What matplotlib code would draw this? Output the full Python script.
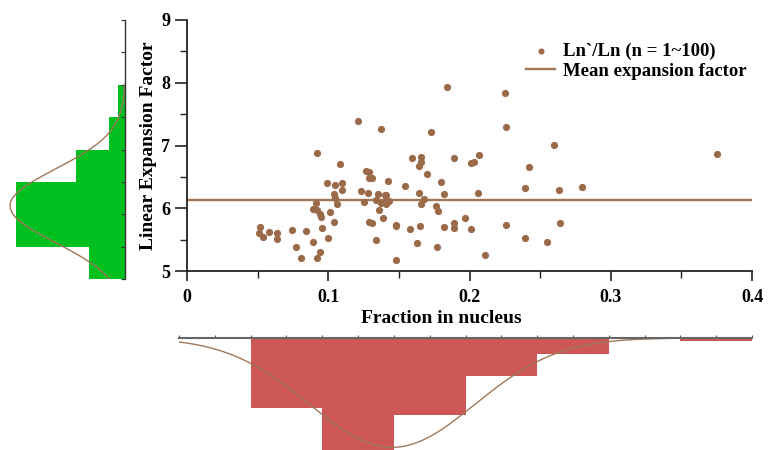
import numpy as np
import matplotlib
matplotlib.use("Agg")
import matplotlib.pyplot as plt
from matplotlib.ticker import MultipleLocator

# =========================
# data
# =========================
frac = [0.051, 0.052, 0.054, 0.058, 0.064, 0.064, 0.074, 0.077, 0.081, 0.084,
        0.089, 0.091, 0.089, 0.092, 0.094, 0.095, 0.092, 0.0955, 0.092, 0.094,
        0.0995, 0.101, 0.104, 0.099, 0.104, 0.105, 0.105, 0.106, 0.108, 0.110,
        0.110, 0.121, 0.123, 0.125, 0.127, 0.128, 0.129, 0.129, 0.131, 0.129,
        0.131, 0.134, 0.135, 0.134, 0.137, 0.136, 0.137, 0.139, 0.140, 0.141,
        0.141, 0.142, 0.143, 0.139, 0.148, 0.148, 0.148, 0.154, 0.158, 0.159,
        0.163, 0.164, 0.164, 0.166, 0.166, 0.165, 0.166, 0.168, 0.170, 0.173,
        0.177, 0.176, 0.178, 0.180, 0.182, 0.182, 0.184, 0.189, 0.189, 0.189,
        0.197, 0.201, 0.203, 0.201, 0.206, 0.207, 0.211, 0.225, 0.226, 0.226,
        0.2395, 0.239, 0.242, 0.255, 0.2596, 0.2636, 0.264, 0.2797, 0.375]
factor = [5.60, 5.70, 5.54, 5.62, 5.61, 5.51, 5.65, 5.39, 5.20, 5.63,
          5.47, 6.08, 5.99, 5.97, 5.91, 5.86, 6.88, 5.69, 5.21, 5.30,
          5.52, 5.94, 5.78, 6.41, 6.22, 6.17, 6.37, 6.07, 6.71, 6.29,
          6.41, 7.39, 6.28, 6.10, 6.59, 6.25, 6.57, 6.48, 6.49, 5.78,
          5.76, 5.49, 6.22, 6.13, 7.27, 5.97, 6.09, 5.85, 6.21, 6.07,
          6.21, 6.44, 6.11, 6.10, 5.74, 5.17, 5.72, 6.35, 5.67, 6.80,
          5.45, 6.25, 6.67, 6.74, 6.82, 5.71, 6.07, 6.14, 6.55, 7.22,
          5.38, 6.03, 5.95, 6.42, 5.70, 6.23, 7.94, 5.76, 5.68, 6.80,
          5.84, 6.72, 6.73, 5.67, 6.24, 6.85, 5.26, 7.83, 7.29, 5.73,
          5.53, 6.33, 6.66, 5.47, 7.01, 6.29, 5.77, 6.34, 6.87]

frac_bins = np.arange(0, 0.45, 0.05)
factor_bins = np.arange(5, 8.5, 0.5)

x = np.array(frac)
y = np.array(factor)
n = len(x)

dot_col = '#9B6A48'
line_col = '#A07858'
green = '#00C020'
red = '#CD5757'

plt.rcParams['font.family'] = ['Liberation Serif', 'DejaVu Serif']
plt.rcParams['font.weight'] = 'bold'

W, H = 770, 450
fig = plt.figure(figsize=(W / 100, H / 100), dpi=100)


def px_axes(l, t, r, b):
    return fig.add_axes([l / W, 1 - b / H, (r - l) / W, (b - t) / H])


# =========================
# main scatter
# =========================
ax = px_axes(187, 20, 752, 271)
ax.scatter(x, y, s=27, color=dot_col, linewidths=0, label='Ln`/Ln (n = 1~100)', zorder=3)
ax.axhline(y.mean(), color=line_col, lw=1.7, label='Mean expansion factor', zorder=2)
ax.set_xlim(0, 0.4)
ax.set_ylim(5, 9)
ax.xaxis.set_minor_locator(MultipleLocator(0.05))
ax.yaxis.set_major_locator(MultipleLocator(1))
ax.yaxis.set_minor_locator(MultipleLocator(0.5))
ax.set_xticks([0, 0.1, 0.2, 0.3, 0.4])
ax.set_xticklabels(['0', '0.1', '0.2', '0.3', '0.4'])
for s in ['top', 'right']:
    ax.spines[s].set_visible(False)
for s in ['left', 'bottom']:
    ax.spines[s].set_linewidth(1.3)
    ax.spines[s].set_color('#222222')
ax.tick_params(which='major', direction='out', width=1.2, labelsize=13, color='#222222')
ax.tick_params(axis='x', which='major', length=7, pad=6)
ax.tick_params(axis='y', which='major', length=9, pad=3)
ax.tick_params(which='minor', direction='out', length=5, width=1.0, color='#222222')
ax.set_xlabel('Fraction in nucleus', fontsize=14, fontweight='bold')
ax.xaxis.set_label_coords((441 - 187) / 565, -0.155)
ax.set_ylabel('Linear Expansion Factor', fontsize=14, fontweight='bold', labelpad=3)

leg = ax.legend(loc='upper right', bbox_to_anchor=(756 / W, 1 - 33 / H),
                bbox_transform=fig.transFigure, frameon=False, fontsize=13.5,
                handlelength=1.5, handletextpad=0.45, labelspacing=0.15,
                borderpad=0, markerscale=0.85)

# =========================
# left histogram (factor)
# =========================
axl = px_axes(0, 20, 125, 279)
axl.hist(y, bins=factor_bins, orientation='horizontal', color=green, edgecolor='none')
yy = np.linspace(5, 8, 200)
sd_y = y.std(ddof=1)
pdf_y = n * 0.5 * np.exp(-0.5 * ((yy - y.mean()) / sd_y) ** 2) / (sd_y * np.sqrt(2 * np.pi))
axl.plot(pdf_y, yy, color=line_col, lw=1)
axl.set_xlim(125 / 3.3, 0)
axl.set_ylim(5, 9)
axl.patch.set_alpha(0)
for s in ['top', 'left', 'bottom']:
    axl.spines[s].set_visible(False)
axl.spines['right'].set_linewidth(1.0)
axl.spines['right'].set_color('#333333')
axl.set_xticks([])
axl.yaxis.tick_right()
axl.yaxis.set_major_locator(MultipleLocator(0.5))
axl.tick_params(axis='y', direction='in', length=3, width=0.8, labelright=False, color='#333333')

# =========================
# bottom histogram (fraction)
# =========================
axb = px_axes(179, 338, 752, 450)
axb.hist(x, bins=frac_bins, color=red, edgecolor='none')
xx = np.linspace(0, 0.34, 200)
sd_x = x.std(ddof=1)
pdf_x = n * 0.05 * np.exp(-0.5 * ((xx - x.mean()) / sd_x) ** 2) / (sd_x * np.sqrt(2 * np.pi))
axb.plot(xx, pdf_x, color=line_col, lw=1)
axb.set_xlim(0, 0.4)
axb.set_ylim(112 / 3.2, 0)
axb.patch.set_alpha(0)
for s in ['left', 'right', 'bottom']:
    axb.spines[s].set_visible(False)
axb.spines['top'].set_linewidth(1.5)
axb.spines['top'].set_color('#666666')
axb.set_yticks([])
axb.xaxis.tick_top()
axb.xaxis.set_major_locator(MultipleLocator(0.025))
axb.tick_params(axis='x', direction='out', length=2.5, width=0.8, labeltop=False, color='#555555')

fig.savefig('out.png', dpi=100)
